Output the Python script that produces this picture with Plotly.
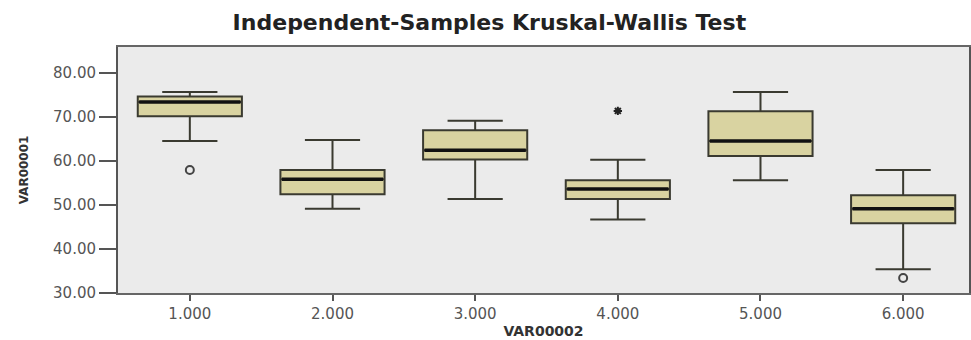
import plotly.graph_objects as go

groups = [1, 2, 3, 4, 5, 6]
group_labels = ["1.000", "2.000", "3.000", "4.000", "5.000", "6.000"]
q1 = [70.1, 52.4, 60.3, 51.3, 61.1, 45.8]
median = [73.3, 55.8, 62.4, 53.6, 64.5, 49.1]
q3 = [74.6, 57.9, 66.9, 55.6, 71.2, 52.2]
lower_whisker = [64.5, 49.1, 51.3, 46.7, 55.6, 35.4]
upper_whisker = [75.6, 64.7, 69.05, 60.2, 75.6, 57.9]

outlier_x = [1, 6]
outlier_y = [57.9, 33.4]
extreme_x = [4]
extreme_y = [71.3]

y_ticks = [30, 40, 50, 60, 70, 80]
y_tick_labels = ["30.00", "40.00", "50.00", "60.00", "70.00", "80.00"]

box_width = 0.73

fig = go.Figure()
fig.add_trace(go.Box(
    x=groups, q1=q1, median=median, q3=q3,
    lowerfence=lower_whisker, upperfence=upper_whisker,
    boxpoints=False, width=box_width, whiskerwidth=0.53,
    fillcolor="#d9d3a1", line=dict(color="#3a3a30", width=2),
    showlegend=False, hoverinfo="skip",
))

# thick median lines
mx, my = [], []
for g, m in zip(groups, median):
    mx += [g - box_width / 2 + 0.01, g + box_width / 2 - 0.01, None]
    my += [m, m, None]
fig.add_trace(go.Scatter(x=mx, y=my, mode="lines",
                         line=dict(color="#111111", width=3.5),
                         showlegend=False, hoverinfo="skip"))

fig.add_trace(go.Scatter(x=outlier_x, y=outlier_y, mode="markers",
                         marker=dict(symbol="circle-open", size=8,
                                     color="#444444", line=dict(width=2)),
                         showlegend=False))
fig.add_trace(go.Scatter(x=extreme_x, y=extreme_y, mode="markers",
                         marker=dict(symbol="asterisk-open", size=7,
                                     color="#222222", line=dict(width=2)),
                         showlegend=False))

fig.update_layout(
    width=971, height=340,
    margin=dict(l=118, r=0, t=47, b=47),
    paper_bgcolor="white", plot_bgcolor="#ebebeb",
    title=dict(text="<b>Independent-Samples Kruskal-Wallis Test</b>",
               x=0.504, xanchor="center", y=0.935, yanchor="middle",
               font=dict(family="DejaVu Sans", size=22, color="#222222")),
    font=dict(family="DejaVu Sans", color="#555555"),
)
fig.update_xaxes(
    range=[1 - 72 / 143, 6 + 66 / 143],
    tickvals=groups, ticktext=group_labels,
    ticks="outside", ticklen=6, tickwidth=2, tickcolor="#555555",
    tickfont=dict(family="DejaVu Sans", size=15, color="#555555"),
    showgrid=False, zeroline=False,
    showline=True, linecolor="#666666", linewidth=2, mirror=True,
    title=dict(text="<b>VAR00002</b>", standoff=4,
               font=dict(family="DejaVu Sans", size=14, color="#333333")),
)
fig.update_yaxes(
    range=[30, 85.8],
    tickvals=y_ticks, ticktext=y_tick_labels,
    ticks="outside", ticklen=17, tickwidth=2, tickcolor="#555555",
    tickfont=dict(family="DejaVu Sans", size=15, color="#555555"),
    showgrid=False, zeroline=False,
    showline=True, linecolor="#555555", linewidth=2, mirror=True,
    title=dict(text="<b>VAR00001</b>", standoff=22,
               font=dict(family="DejaVu Sans", size=12, color="#333333")),
)

fig.write_html("out.html")
